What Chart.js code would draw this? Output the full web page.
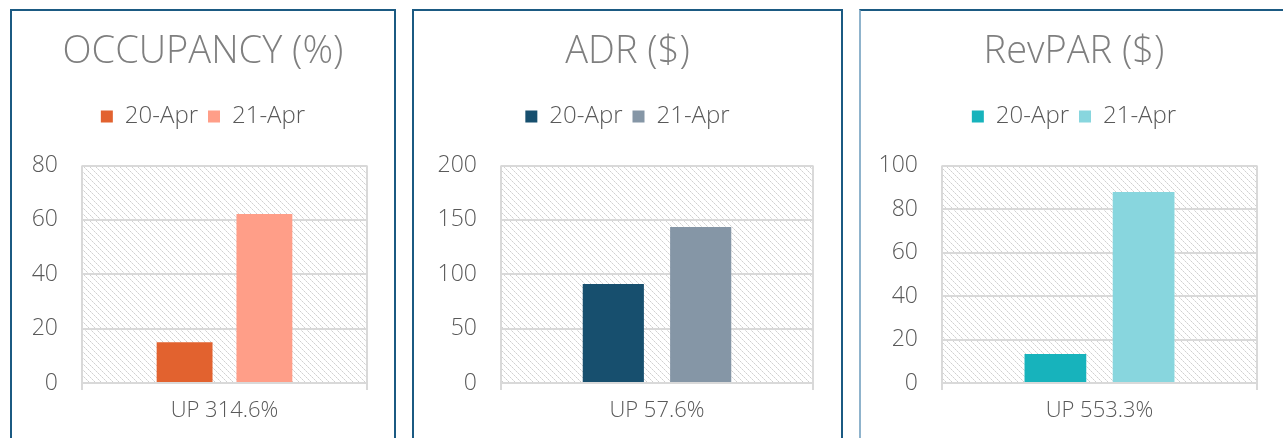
<!DOCTYPE html>
<html>
<head>
<meta charset="utf-8">
<script src="https://cdn.jsdelivr.net/npm/chart.js@4.4.1/dist/chart.umd.min.js"></script>
<style>
  html,body{margin:0;padding:0;background:#fff;width:1283px;height:438px;overflow:hidden;}
  .panel{position:absolute;box-sizing:border-box;border:2px solid #1B5A82;background:#fff;}
  canvas{position:absolute;}
</style>
</head>
<body>
<div class="panel" style="left:10px;top:9px;width:386px;height:450px;"></div>
<div class="panel" style="left:412px;top:9px;width:431px;height:450px;"></div>
<div class="panel" style="left:859px;top:9px;width:440px;height:450px;border-left-color:#8FB3CC;"></div>
<canvas id="c1" width="382" height="427" style="left:12px;top:11px;"></canvas>
<canvas id="c2" width="427" height="427" style="left:414px;top:11px;"></canvas>
<canvas id="c3" width="422" height="427" style="left:863px;top:11px;"></canvas>
<script>
// ---- data ----
const seriesLabels = ['20-Apr', '21-Apr'];

const occupancyTitle = 'OCCUPANCY (%)';
const occupancyCategories = ['UP 314.6%'];
const occupancy20Apr = [15.0];
const occupancy21Apr = [62.2];
const occupancyTicks = [0, 20, 40, 60, 80];

const adrTitle = 'ADR ($)';
const adrCategories = ['UP 57.6%'];
const adr20Apr = [91.0];
const adr21Apr = [143.4];
const adrTicks = [0, 50, 100, 150, 200];

const revparTitle = 'RevPAR ($)';
const revparCategories = ['UP 553.3%'];
const revpar20Apr = [13.3];
const revpar21Apr = [87.9];
const revparTicks = [0, 20, 40, 60, 80, 100];

// ---- styling ----
const FONT = "'Open Sans', 'DejaVu Sans', sans-serif";
const GRID = '#D9D9D9';

function hatchPattern(ctx) {
  const c = document.createElement('canvas');
  c.width = 6; c.height = 6;
  const x = c.getContext('2d');
  x.fillStyle = '#ffffff';
  x.fillRect(0, 0, 6, 6);
  for (let i = 0; i < 6; i++) {
    x.fillStyle = (i % 2 === 0) ? '#D0D0D0' : '#E4E4E4';
    x.fillRect(i, i, 1, 1);
  }
  return ctx.createPattern(c, 'repeat');
}

const hatchBg = {
  id: 'hatchBg',
  beforeDraw(chart) {
    const {ctx, chartArea: a} = chart;
    ctx.save();
    ctx.fillStyle = hatchPattern(ctx);
    ctx.fillRect(a.left, a.top, a.right - a.left, a.bottom - a.top);
    ctx.restore();
  }
};

function legendGap(extra) {
  return {
    id: 'legendGap',
    beforeInit(chart) {
      const fit = chart.legend.fit;
      chart.legend.fit = function () {
        fit.bind(chart.legend)();
        this.height += extra;
      };
    }
  };
}

function makeChart(id, title, categories, a, b, ticks, colors, yWidth, rightWidth) {
  const tickVals = ticks.slice();
  return new Chart(document.getElementById(id), {
    type: 'bar',
    data: {
      labels: categories,
      datasets: [
        {label: seriesLabels[0], data: a, backgroundColor: colors[0], categoryPercentage: 0.56, barPercentage: 0.7},
        {label: seriesLabels[1], data: b, backgroundColor: colors[1], categoryPercentage: 0.56, barPercentage: 0.7}
      ]
    },
    options: {
      responsive: false,
      animation: false,
      devicePixelRatio: 1,
      layout: {padding: 0},
      plugins: {
        title: {
          display: true, text: title, color: '#7F7F7F',
          font: {family: FONT, size: 38, weight: '300'},
          padding: {top: 18, bottom: 20}
        },
        legend: {
          display: true, position: 'top',
          labels: {
            boxWidth: 12, boxHeight: 12, padding: 10, color: '#595959',
            font: {family: FONT, size: 24, weight: '300'}
          }
        },
        tooltip: {enabled: false}
      },
      scales: {
        x: {
          grid: {display: true, color: GRID, lineWidth: 2, tickLength: 7, offset: true, drawOnChartArea: true},
          border: {display: true, color: GRID, width: 2},
          ticks: {color: '#595959', font: {family: FONT, size: 22, weight: '300'}, padding: 8},
          afterFit(scale) { scale.height = 55; }
        },
        y: {
          position: 'left',
          min: tickVals[0], max: tickVals[tickVals.length - 1],
          afterBuildTicks(scale) { scale.ticks = tickVals.map(v => ({value: v})); },
          grid: {color: GRID, lineWidth: 2, drawTicks: false},
          border: {display: false},
          ticks: {color: '#595959', font: {family: FONT, size: 23, weight: '300'}, padding: 24},
          afterFit(scale) { scale.width = yWidth; }
        },
        spacer: {
          type: 'linear', position: 'right', display: true,
          grid: {display: false, drawTicks: false},
          border: {display: false},
          ticks: {display: false},
          afterFit(scale) { scale.width = rightWidth; }
        }
      }
    },
    plugins: [hatchBg, legendGap(27)]
  });
}

makeChart('c1', occupancyTitle, occupancyCategories, occupancy20Apr, occupancy21Apr, occupancyTicks, ['#E2622F', '#FF9E88'], 70, 27);
makeChart('c2', adrTitle, adrCategories, adr20Apr, adr21Apr, adrTicks, ['#174F6E', '#8596A6'], 87, 28);
makeChart('c3', revparTitle, revparCategories, revpar20Apr, revpar21Apr, revparTicks, ['#17B3BC', '#88D6DE'], 79, 28);
</script>
</body>
</html>
